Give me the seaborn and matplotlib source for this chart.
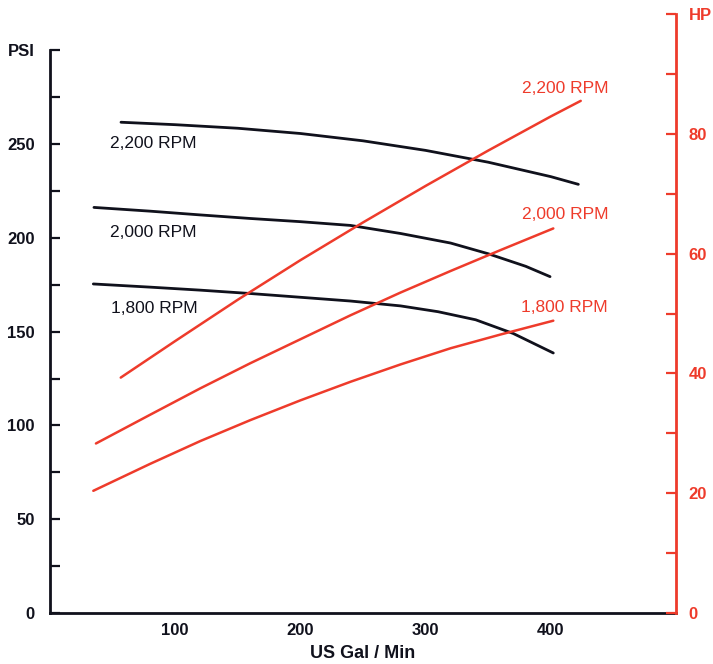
import matplotlib
matplotlib.use("Agg")
import matplotlib.pyplot as plt
import seaborn as sns
import pandas as pd

BLACK = "#10111c"
RED = "#ee3b2b"

rpm_names = ["2,200 RPM", "2,000 RPM", "1,800 RPM"]

# pressure curves (PSI)
psi_gpm_2200 = [56.7, 100, 150, 200, 250, 300, 350, 400, 422]
psi_2200 = [261.6, 260.3, 258.4, 255.6, 251.7, 246.6, 240.3, 232.6, 228.5]
psi_gpm_2000 = [35.1, 80, 120, 160, 200, 240, 280, 320, 350, 380, 399.4]
psi_2000 = [216.2, 214.2, 212.2, 210.3, 208.6, 206.6, 202.3, 197.2, 191.5, 184.8, 179.3]
psi_gpm_1800 = [34.6, 80, 120, 160, 200, 240, 280, 310, 340, 370, 402]
psi_1800 = [175.4, 173.7, 172.1, 170.3, 168.3, 166.3, 163.7, 160.6, 156.3, 149.0, 138.6]

# power curves (HP)
hp_gpm_2200 = [56.5, 100, 150, 200, 250, 300, 350, 400, 423.9]
hp_2200 = [39.3, 45.4, 52.3, 58.9, 65.2, 71.3, 77.2, 82.9, 85.5]
hp_gpm_2000 = [36.7, 80, 120, 160, 200, 240, 280, 320, 360, 402]
hp_2000 = [28.3, 33.1, 37.5, 41.7, 45.7, 49.7, 53.5, 57.1, 60.6, 64.2]
hp_gpm_1800 = [34.6, 80, 120, 160, 200, 240, 280, 320, 360, 402]
hp_1800 = [20.4, 24.9, 28.7, 32.2, 35.5, 38.6, 41.5, 44.2, 46.5, 48.8]

x_ticks = [50, 100, 150, 200, 250, 300, 350, 400, 450]
x_labels = ["", "100", "", "200", "", "300", "", "400", ""]
psi_ticks = [0, 25, 50, 75, 100, 125, 150, 175, 200, 225, 250, 275, 300]
psi_labels = ["0", "", "50", "", "100", "", "150", "", "200", "", "250", "", "PSI"]
hp_ticks = [0, 10, 20, 30, 40, 50, 60, 70, 80, 90, 100]
hp_labels = ["0", "", "20", "", "40", "", "60", "", "80", "", "HP"]

# label anchors
psi_label_x = [47.9, 47.9, 48.5]
psi_label_y = [250.5, 203.0, 162.3]
hp_label_x = [445.7, 445.7, 445.7]
hp_label_y = [87.5, 66.6, 51.0]


def long_frame(xs, ys, col):
    rows = []
    for name, xv, yv in zip(rpm_names, xs, ys):
        for a, b in zip(xv, yv):
            rows.append({"gpm": a, col: b, "rpm": name})
    return pd.DataFrame(rows)


def main():
    sns.set_style("white")
    plt.rcParams["font.family"] = ["Liberation Sans", "DejaVu Sans"]

    psi_df = long_frame([psi_gpm_2200, psi_gpm_2000, psi_gpm_1800],
                        [psi_2200, psi_2000, psi_1800], "psi")
    hp_df = long_frame([hp_gpm_2200, hp_gpm_2000, hp_gpm_1800],
                       [hp_2200, hp_2000, hp_1800], "hp")

    fig = plt.figure(figsize=(7.13, 6.64), dpi=100)
    ax = fig.add_axes([50 / 713, 51 / 664, 626 / 713, 599 / 664])
    ax2 = ax.twinx()

    sns.lineplot(data=psi_df, x="gpm", y="psi", hue="rpm", palette=[BLACK] * 3,
                 sort=False, estimator=None, legend=False, lw=2.0, ax=ax)
    sns.lineplot(data=hp_df, x="gpm", y="hp", hue="rpm", palette=[RED] * 3,
                 sort=False, estimator=None, legend=False, lw=1.8, ax=ax2)

    ax.set_xlim(0, 500)
    ax.set_ylim(0, 319.3)
    ax2.set_ylim(0, 100)

    ax.set_xticks(x_ticks)
    ax.set_xticklabels(x_labels)
    ax.set_yticks(psi_ticks)
    ax.set_yticklabels(psi_labels)
    ax2.set_yticks(hp_ticks)
    ax2.set_yticklabels(hp_labels)

    for a in (ax, ax2):
        a.spines["top"].set_visible(False)
        a.grid(False)
    ax.spines["right"].set_visible(False)
    ax2.spines["left"].set_visible(False)
    ax2.spines["bottom"].set_visible(False)
    ax.spines["left"].set_bounds(0, 300)
    ax.spines["left"].set_color(BLACK)
    ax.spines["bottom"].set_color(BLACK)
    ax2.spines["right"].set_color(RED)
    for s in ("left", "bottom"):
        ax.spines[s].set_linewidth(2.0)
    ax2.spines["right"].set_linewidth(2.0)

    ax.tick_params(axis="x", direction="in", length=7, width=1.6, color=BLACK,
                   pad=7, labelsize=12, labelcolor=BLACK)
    ax.tick_params(axis="y", direction="in", length=7, width=1.6, color=BLACK,
                   pad=11, labelsize=12, labelcolor=BLACK)
    ax2.tick_params(axis="y", direction="in", length=7, width=1.6, color=RED,
                    pad=9, labelsize=12, labelcolor=RED)
    for lab in ax.get_xticklabels() + ax.get_yticklabels() + ax2.get_yticklabels():
        lab.set_fontweight("bold")

    ax.set_xlabel("US Gal / Min", fontsize=13, fontweight="bold", color=BLACK, labelpad=5)
    ax.set_ylabel("")
    ax2.set_ylabel("")

    for name, xv, yv in zip(rpm_names, psi_label_x, psi_label_y):
        ax.text(xv, yv, name, fontsize=12.5, color=BLACK, ha="left", va="center")
    for name, xv, yv in zip(rpm_names, hp_label_x, hp_label_y):
        ax2.text(xv, yv, name, fontsize=12.5, color=RED, ha="right", va="center")

    fig.savefig("out.png", dpi=100)
    plt.close(fig)


if __name__ == '__main__':
    main()
